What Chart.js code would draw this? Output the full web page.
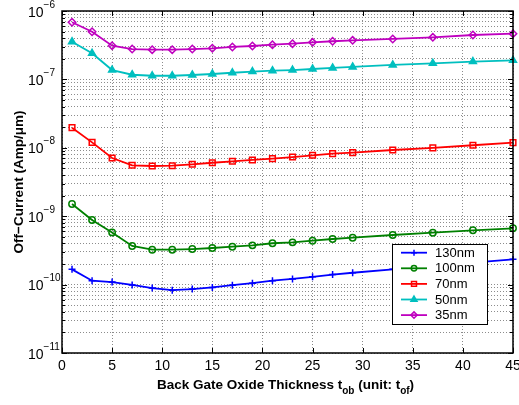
<!DOCTYPE html>
<html>
<head>
<meta charset="utf-8">
<script src="https://cdn.jsdelivr.net/npm/chart.js@4.4.1/dist/chart.umd.min.js"></script>
<style>
  body { margin: 0; background: #fff; }
  canvas { display: block; }
</style>
</head>
<body>
<canvas id="offCurrent" width="519" height="405"></canvas>
<script>
// back gate oxide thickness, in units of t_of
const thickness = [1, 3, 5, 7, 9, 11, 13, 15, 17, 19, 21, 23, 25, 27, 29, 33, 37, 41, 45];

// off-current (A/um) per technology node
const off130 = [1.67e-10, 1.14e-10, 1.09e-10, 9.9e-11, 8.9e-11, 8.3e-11, 8.6e-11, 9.1e-11, 9.8e-11, 1.05e-10,
                1.14e-10, 1.21e-10, 1.30e-10, 1.40e-10, 1.49e-10, 1.67e-10, 1.87e-10, 2.10e-10, 2.34e-10];
const off100 = [1.51e-9, 8.8e-10, 5.8e-10, 3.67e-10, 3.24e-10, 3.24e-10, 3.31e-10, 3.43e-10, 3.58e-10, 3.75e-10,
                4.02e-10, 4.15e-10, 4.38e-10, 4.64e-10, 4.85e-10, 5.31e-10, 5.74e-10, 6.22e-10, 6.65e-10];
const off70  = [1.97e-8, 1.20e-8, 7.09e-9, 5.55e-9, 5.42e-9, 5.47e-9, 5.74e-9, 6.05e-9, 6.35e-9, 6.64e-9,
                6.93e-9, 7.33e-9, 7.77e-9, 8.20e-9, 8.48e-9, 9.29e-9, 1.00e-8, 1.09e-8, 1.19e-8];
const off50  = [3.56e-7, 2.41e-7, 1.37e-7, 1.17e-7, 1.13e-7, 1.13e-7, 1.16e-7, 1.20e-7, 1.25e-7, 1.30e-7,
                1.34e-7, 1.37e-7, 1.42e-7, 1.47e-7, 1.52e-7, 1.63e-7, 1.72e-7, 1.82e-7, 1.90e-7];
const off35  = [6.84e-7, 4.98e-7, 3.11e-7, 2.78e-7, 2.72e-7, 2.72e-7, 2.78e-7, 2.85e-7, 2.98e-7, 3.08e-7,
                3.22e-7, 3.33e-7, 3.48e-7, 3.61e-7, 3.73e-7, 3.90e-7, 4.12e-7, 4.46e-7, 4.66e-7];

const seriesNames = ['130nm', '100nm', '70nm', '50nm', '35nm'];

const xTicks = [0, 5, 10, 15, 20, 25, 30, 35, 40, 45];
const yDecades = [-11, -10, -9, -8, -7, -6];
const yMantissas = [1, 2, 3, 4, 5, 6, 7, 8, 9];

// every log gridline: 1..9 x 10^k, plus the top decade
const yTicks = [];
yDecades.slice(0, -1).forEach(d => yMantissas.forEach(m => yTicks.push(Number((m + 'e' + d)))));
yTicks.push(1e-6);

const FONT = '"Liberation Sans", Arial, Helvetica, sans-serif';

const styles = [
  {color: '#0000ff', point: 'cross',    radius: 3.5, fill: 'rgba(0,0,0,0)'},
  {color: '#008000', point: 'circle',   radius: 3.2, fill: 'rgba(0,0,0,0)'},
  {color: '#ff0000', point: 'rect',     radius: 4,   fill: 'rgba(0,0,0,0)'},
  {color: '#00bfbf', point: 'triangle', radius: 4,   fill: '#00bfbf'},
  {color: '#bf00bf', point: 'rectRot',  radius: 3.7, fill: 'rgba(0,0,0,0)'},
];

const seriesData = [off130, off100, off70, off50, off35];

const datasets = seriesData.map((vals, i) => ({
  label: seriesNames[i],
  data: vals,
  borderColor: styles[i].color,
  backgroundColor: styles[i].color,
  borderWidth: 1.8,
  pointStyle: styles[i].point,
  pointRadius: styles[i].radius,
  pointBorderWidth: 1.5,
  pointBorderColor: styles[i].color,
  pointBackgroundColor: styles[i].fill,
  tension: 0,
  clip: false,
}));

// draws box, inner ticks, tick labels with exponents, axis titles and the legend
const axesDecor = {
  id: 'axesDecor',
  afterDraw(chart) {
    const {ctx, chartArea: a, scales: {x, y}} = chart;
    ctx.save();

    // inner tick marks
    ctx.strokeStyle = '#000';
    ctx.lineWidth = 1;
    xTicks.forEach(v => {
      const px = Math.round(x.getPixelForValue(v)) + 0.5;
      ctx.beginPath();
      ctx.moveTo(px, a.bottom); ctx.lineTo(px, a.bottom - 5);
      ctx.moveTo(px, a.top); ctx.lineTo(px, a.top + 5);
      ctx.stroke();
    });
    yTicks.forEach(v => {
      const py = Math.round(y.getPixelForValue(v)) + 0.5;
      const major = Math.abs(Math.log10(v) - Math.round(Math.log10(v))) < 1e-6;
      const len = major ? 5 : 3;
      ctx.beginPath();
      ctx.moveTo(a.left, py); ctx.lineTo(a.left + len, py);
      ctx.moveTo(a.right, py); ctx.lineTo(a.right - len, py);
      ctx.stroke();
    });

    // box
    ctx.lineWidth = 1.5;
    ctx.strokeRect(a.left, a.top, a.right - a.left, a.bottom - a.top);

    // x tick labels
    ctx.fillStyle = '#000';
    ctx.font = '14px ' + FONT;
    ctx.textAlign = 'center';
    ctx.textBaseline = 'alphabetic';
    xTicks.forEach(v => ctx.fillText(String(v), x.getPixelForValue(v), a.bottom + 17));

    // y tick labels: 10 with superscript exponent
    ctx.textAlign = 'left';
    yDecades.forEach(d => {
      const py = y.getPixelForValue(Math.pow(10, d));
      ctx.font = '14px ' + FONT;
      ctx.fillText('10', 28, py + 5.5);
      const w = ctx.measureText('10').width;
      ctx.font = '10px ' + FONT;
      ctx.fillText('\u2212' + Math.abs(d), 28 + w, py - 3.5);
    });

    // x axis title with subscripts
    const big = 'bold 13.5px ' + FONT, small = 'bold 10px ' + FONT;
    const parts = [
      ['Back Gate Oxide Thickness t', big, 0],
      ['ob', small, 5],
      [' (unit: t', big, 0],
      ['of', small, 5],
      [')', big, 0],
    ];
    let total = 0;
    parts.forEach(p => { ctx.font = p[1]; total += ctx.measureText(p[0]).width; });
    let cx = (a.left + a.right) / 2 - total / 2 - 2;
    parts.forEach(p => {
      ctx.font = p[1];
      ctx.fillText(p[0], cx, 389 + p[2]);
      cx += ctx.measureText(p[0]).width;
    });

    // y axis title
    ctx.save();
    ctx.translate(23, (a.top + a.bottom) / 2);
    ctx.rotate(-Math.PI / 2);
    ctx.textAlign = 'center';
    ctx.font = big;
    ctx.fillText('Off\u2212Current (Amp/\u03bcm)', 0, 0);
    ctx.restore();

    // legend
    const lx = 392.5, ly = 244.5, lw = 95, lh = 80;
    ctx.fillStyle = '#fff';
    ctx.fillRect(lx, ly, lw, lh);
    ctx.strokeStyle = '#000';
    ctx.lineWidth = 1;
    ctx.strokeRect(lx, ly, lw, lh);
    ctx.font = '13px ' + FONT;
    ctx.textBaseline = 'middle';
    seriesNames.forEach((name, i) => {
      const ey = 252.7 + i * 15.6;
      const s = styles[i];
      ctx.strokeStyle = s.color;
      ctx.lineWidth = 1.8;
      ctx.beginPath();
      ctx.moveTo(401, ey); ctx.lineTo(427, ey);
      ctx.stroke();
      ctx.lineWidth = 1.5;
      ctx.fillStyle = s.fill;
      Chart.helpers.drawPoint(ctx, {pointStyle: s.point, radius: s.radius - 0.5, borderWidth: 1.5, rotation: 0}, 414, ey);
      ctx.fillStyle = '#000';
      ctx.fillText(name, 435, ey + 0.5);
    });

    ctx.restore();
  }
};

const gridOpts = {
  color: '#8c8c8c',
  lineWidth: 1,
  drawTicks: false,
};

new Chart(document.getElementById('offCurrent'), {
  type: 'line',
  data: {labels: thickness, datasets: datasets.map(ds => ({...ds, data: ds.data.map((v, j) => ({x: thickness[j], y: v}))}))},
  options: {
    responsive: false,
    devicePixelRatio: 1,
    animation: false,
    layout: {padding: {top: 11, right: 6, left: 0, bottom: 0}},
    plugins: {legend: {display: false}, tooltip: {enabled: false}},
    scales: {
      x: {
        type: 'linear',
        min: 0,
        max: 45,
        grid: gridOpts,
        border: {display: false, dash: [1, 2]},
        ticks: {display: false},
        afterBuildTicks: scale => { scale.ticks = xTicks.map(v => ({value: v})); },
        afterFit: scale => { scale.height = 52; },
      },
      y: {
        type: 'logarithmic',
        min: 1e-11,
        max: 1e-6,
        grid: gridOpts,
        border: {display: false, dash: [1, 2]},
        ticks: {display: false},
        afterBuildTicks: scale => { scale.ticks = yTicks.map(v => ({value: v})); },
        afterFit: scale => { scale.width = 62; },
      },
    },
  },
  plugins: [axesDecor],
});
</script>
</body>
</html>
